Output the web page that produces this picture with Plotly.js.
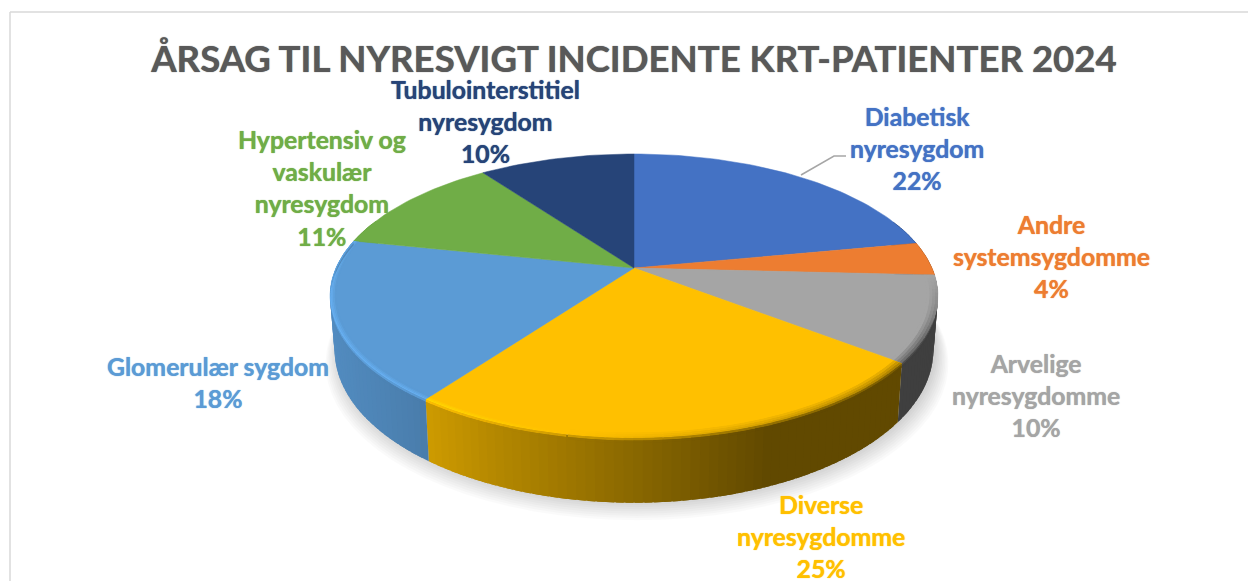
<!DOCTYPE html>
<html><head><meta charset="utf-8">
<script src="https://cdn.plot.ly/plotly-3.0.1.min.js"></script>
<style>html,body{margin:0;padding:0;background:#fff}#c{width:1248px;height:581px}</style>
</head><body><div id="c"></div>
<script>
const categories = ["Diabetisk nyresygdom","Andre systemsygdomme","Arvelige nyresygdomme","Diverse nyresygdomme","Glomerulær sygdom","Hypertensiv og vaskulær nyresygdom","Tubulointerstitiel nyresygdom"];
const values = [22, 3.8, 9.7, 24.5, 18.3, 11.7, 10];
const percentLabels = ["22%","4%","10%","25%","18%","11%","10%"];
const labelLines = ["Diabetisk<br>nyresygdom","Andre<br>systemsygdomme","Arvelige<br>nyresygdomme","Diverse<br>nyresygdomme","Glomerulær sygdom","Hypertensiv og<br>vaskulær<br>nyresygdom","Tubulointerstitiel<br>nyresygdom"];
const colors = ["#4472C4","#ED7D31","#A5A5A5","#FFC000","#5B9BD5","#70AD47","#264478"];
const labelColors = ["#4472C4","#ED7D31","#A5A5A5","#FFC000","#5B9BD5","#70AD47","#264478"];
const labelX = [917,1051,1036,821,218,322,485];
const labelY = [148,256,395,536,382,188,121];
const titleText = "ÅRSAG TIL NYRESVIGT INCIDENTE KRT-PATIENTER 2024";

// perspective view of the pie disc
const cx=634, cy=268, R=298, S=136.5, k=0.197, D=52, low=0.985;
function rimTop(deg,r){r=r===undefined?1:r;const t=deg*Math.PI/180,u=r*Math.sin(t),v=-r*Math.cos(t),w=1-k*v;
  return [cx+R*u/w, cy+S*v/w];}
function rimBot(deg,extra){const t=deg*Math.PI/180,u=Math.sin(t),v=-Math.cos(t),w=1-k*v;
  return [cx+low*R*u/w, cy+S*v/w+(extra===undefined?D:extra)/w];}
function hex(c){return [1,3,5].map(i=>parseInt(c.substr(i,2),16));}
function rgb(a){return "rgb("+a.map(x=>Math.max(0,Math.min(255,Math.round(x)))).join(",")+")";}
const shadeX=[330,430,500,600,700,770,940], shadeV=[.90,.80,.70,.58,.46,.38,.38];
function shade(x){if(x<=shadeX[0])return shadeV[0];for(let i=1;i<shadeX.length;i++){if(x<=shadeX[i]){const f=(x-shadeX[i-1])/(shadeX[i]-shadeX[i-1]);return shadeV[i-1]+f*(shadeV[i]-shadeV[i-1]);}}return shadeV[shadeV.length-1];}
function poly(pts,fill,name,lw){const xs=pts.map(p=>p[0]),ys=pts.map(p=>p[1]);xs.push(xs[0]);ys.push(ys[0]);
  return {type:"scatter",mode:"lines",x:xs,y:ys,fill:"toself",fillcolor:fill,line:{color:fill,width:lw||0},hoverinfo:name?"text":"skip",text:name||"",showlegend:false};}

const traces=[];
// soft shadow under the disc
for(let s=0;s<9;s++){const pts=[];const g=s*2.2;
  for(let a=60;a<=300;a+=4){const p=rimBot(a,D+g*.8);const dx=Math.sin(a*Math.PI/180)*g*.7;pts.push([p[0]+dx+3,p[1]]);}
  traces.push(poly(pts,"rgba(0,0,0,0.018)"));}
// slice boundaries
const sum=values.reduce((a,b)=>a+b,0);let acc=0;const bounds=values.map(v=>{const s=acc;acc+=v;return [s/sum*360,acc/sum*360];});
const overlap=1.2;
// side wall: each strip reaches under the next one so no seams show
bounds.forEach((b,i)=>{const base=hex(colors[i]);const n=Math.max(1,Math.ceil((b[1]-b[0])/1.5));
  for(let j=0;j<n;j++){const a=b[0]+(b[1]-b[0])*j/n,e0=b[0]+(b[1]-b[0])*(j+1)/n,e=Math.min(b[1],e0+overlap);
    if(e0<70||a>290)continue;
    const t1=rimTop(a),t2=rimTop(e),b2=rimBot(e),b1=rimBot(a);
    const f=shade((rimTop(a)[0]+rimTop(e0)[0])/2);
    traces.push(poly([t1,t2,b2,b1],rgb(base.map(c=>c*f))));}
});
// top face
bounds.forEach((b,i)=>{const pts=[[cx,cy]];const n=Math.ceil((b[1]-b[0])/1.5);
  for(let j=0;j<=n;j++)pts.push(rimTop(b[0]+(b[1]-b[0])*j/n));
  traces.push(poly(pts,colors[i],categories[i]+" "+percentLabels[i],0.5));});
// rim bevel: lit on the left, dark on the right
function bevelAmt(a){ // +1 light … -1 dark
  if(a<=93||a>=282)return 0;
  if(a<125)return -Math.min(1,(a-93)/25);
  if(a<190)return -1+(a-125)/65;
  return Math.min(1,(a-190)/25);
}
bounds.forEach((b,i)=>{const base=hex(colors[i]);const n=Math.max(1,Math.ceil((b[1]-b[0])/1.5));
  for(let j=0;j<n;j++){const a=b[0]+(b[1]-b[0])*j/n,e0=b[0]+(b[1]-b[0])*(j+1)/n,e=Math.min(b[1],e0+overlap),m=(a+e0)/2;
    const am=bevelAmt(m);if(Math.abs(am)<.02)continue;
    const wall=base.map(c=>c*shade(rimTop(m)[0]));
    const lit=base.map(c=>am>0?c*(1+.17*am):c*(1+.45*am));
    const rs=am>0?[1,.995,.99,.985,.98]:[1,.991,.982,.973,.964];
    // inner gradient on the top face
    for(let q=1;q<rs.length;q++){const fr=q/(rs.length-1);
      const col=base.map((c,z)=>lit[z]+(c-lit[z])*fr);
      traces.push(poly([rimTop(a,rs[q-1]),rimTop(e,rs[q-1]),rimTop(e,rs[q]),rimTop(a,rs[q])],rgb(col)));}
    // outer gradient on to the wall
    const d=[0,2,4];
    for(let q=1;q<d.length;q++){const fr=q/(d.length-1);
      const col=lit.map((c,z)=>c+(wall[z]-c)*fr);
      const o=(deg,dd)=>{const p=rimTop(deg);const t=deg*Math.PI/180,w=1+k*Math.cos(t);return [p[0],p[1]+dd/w];};
      traces.push(poly([o(a,d[q-1]),o(e,d[q-1]),o(e,d[q]),o(a,d[q])],rgb(col)));}
  }
});

const annotations=categories.map((c,i)=>({xref:"x",yref:"y",x:labelX[i],y:labelY[i],xanchor:"center",yanchor:"middle",align:"center",showarrow:false,
  text:labelLines[i]+"<br>"+percentLabels[i],font:{family:"Lato, Carlito, sans-serif",size:24.8,color:labelColors[i],weight:700,shadow:"0 0 1px "+labelColors[i]}}));

const shapes=[
 {type:"line",xref:"x",yref:"y",x0:10,x1:10,y0:12,y1:581,line:{color:"#D9D9D9",width:1.5}},
 {type:"line",xref:"x",yref:"y",x0:10,x1:1248,y0:12,y1:12,line:{color:"#D9D9D9",width:1.5}},
 {type:"path",xref:"x",yref:"y",path:"M 801 175 L 834 156 L 846 156",line:{color:"#A6A6A6",width:1.5},fillcolor:"rgba(0,0,0,0)"}
];

Plotly.newPlot("c",traces,{
 width:1248,height:581,margin:{l:0,r:0,t:0,b:0},paper_bgcolor:"#fff",plot_bgcolor:"#fff",showlegend:false,
 xaxis:{range:[0,1248],visible:false,fixedrange:true},
 yaxis:{range:[581,0],visible:false,fixedrange:true},
 title:{text:titleText,x:634/1248,xanchor:"center",xref:"paper",yref:"container",y:1-59/581,yanchor:"middle",font:{family:"Lato, Carlito, sans-serif",size:36.6,color:"#595959",weight:700,shadow:"0 0 1px #595959"}},
 annotations,shapes
},{displayModeBar:false,staticPlot:true});
</script></body></html>
